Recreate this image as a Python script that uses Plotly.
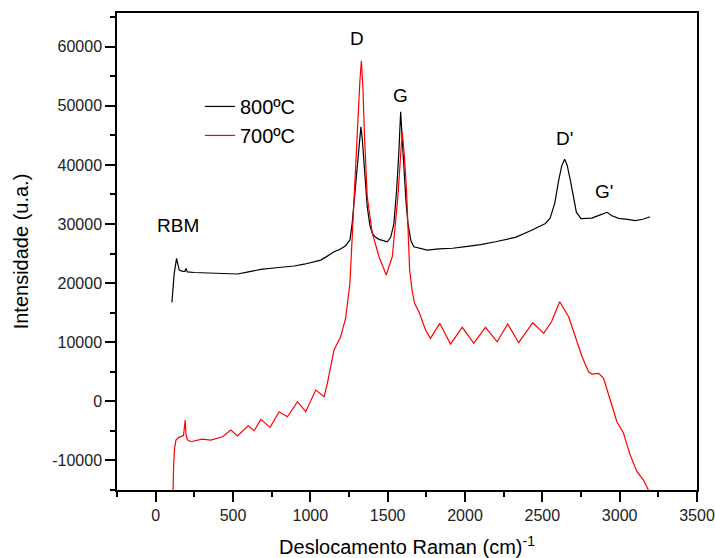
import plotly.graph_objects as go

# ---- data ----
black_x = [105, 120, 135, 145, 152, 175, 190, 196, 205, 249, 330, 420, 529, 600, 680, 780, 895,
           960, 1024, 1067, 1100, 1132, 1153, 1190, 1228, 1256, 1270, 1282, 1304, 1318, 1327,
           1337, 1347, 1358, 1368, 1385, 1401, 1420, 1444, 1498, 1520, 1540, 1558, 1572, 1584,
           1595, 1605, 1618, 1631, 1650, 1669, 1756, 1831, 1920, 2003, 2100, 2197, 2326, 2434,
           2520, 2550, 2580, 2606, 2625, 2644, 2660, 2681, 2700, 2720, 2750, 2778, 2820, 2870,
           2918, 2950, 2993, 3050, 3101, 3150, 3197]
black_y = [16750, 21660, 24200, 22600, 22200, 22000, 22000, 22500, 21900, 21800, 21700, 21600,
           21540, 21900, 22330, 22600, 22900, 23200, 23600, 23900, 24400, 25000, 25300, 25700,
           26300, 27300, 30000, 33500, 40270, 44500, 46460, 44000, 40270, 36000, 32900, 29800,
           28400, 27800, 27400, 27000, 27800, 30000, 35750, 42000, 49000, 44000, 39140, 34000,
           30100, 27200, 26160, 25600, 25800, 25900, 26160, 26500, 27000, 27750, 28980, 30100,
           31000, 33500, 37440, 39800, 40950, 40000, 37440, 34500, 32000, 30900, 30960, 31000,
           31500, 31980, 31400, 30960, 30800, 30560, 30800, 31240]

red_x = [110, 112, 116, 122, 131, 150, 180, 186, 191, 196, 205, 228, 300, 357, 432, 486, 529,
         598, 637, 680, 740, 798, 852, 917, 970, 1035, 1089, 1110, 1153, 1196, 1228, 1256,
         1265, 1300, 1320, 1330, 1340, 1350, 1368, 1401, 1444, 1491, 1530, 1566, 1582, 1594,
         1608, 1622, 1642, 1659, 1674, 1702, 1745, 1777, 1837, 1906, 1982, 2057, 2132, 2208,
         2276, 2347, 2438, 2509, 2560, 2612, 2670, 2713, 2757, 2799, 2821, 2864, 2896, 2939,
         2982, 3025, 3068, 3112, 3154, 3180, 3195]
red_y = [-16500, -15500, -11000, -8000, -6550, -6100, -5800, -4500, -3160, -5600, -6500, -6830,
         -6400, -6550, -6000, -4860, -5870, -4130, -4970, -3050, -4400, -1760, -2600, -60,
         -1760, 1900, 780, 3040, 8680, 10930, 14040, 20000, 25000, 42000, 54000, 57630, 53000,
         45000, 34600, 28400, 24470, 21370, 24470, 34600, 41000, 45600, 41500, 35750, 22220,
         18550, 16580, 15160, 12060, 10660, 13200, 9700, 12520, 9810, 12520, 10080, 13080,
         9920, 13300, 11500, 13500, 16850, 14320, 10930, 7550, 5010, 4620, 4740, 3890, 220,
         -3450, -5410, -9090, -11910, -13320, -14720, -15500]

series_names = ["800ºC", "700ºC"]

x_ticks = [0, 500, 1000, 1500, 2000, 2500, 3000, 3500]
x_ticktext = ["0", "500", "1000", "1500", "2000", "2500", "3000", "3500"]
y_ticks = [-10000, 0, 10000, 20000, 30000, 40000, 50000, 60000]
y_ticktext = ["-10000", "0", "10000", "20000", "30000", "40000", "50000", "60000"]

peak_labels = ["D", "G", "D'", "G'", "RBM"]
peak_x = [1300, 1584, 2642, 2900, 144]
peak_y = [61470, 51660, 44550, 35580, 29830]

FONT = "Arial, Liberation Sans, sans-serif"

fig = go.Figure()
fig.add_trace(go.Scatter(x=black_x, y=black_y, mode="lines", name=series_names[0],
                         line=dict(color="#000000", width=1.2)))
fig.add_trace(go.Scatter(x=red_x, y=red_y, mode="lines", name=series_names[1],
                         line=dict(color="#ff0000", width=1.2)))

for t, px, py in zip(peak_labels, peak_x, peak_y):
    fig.add_annotation(x=px, y=py, text=t, showarrow=False, xanchor="center", yanchor="middle",
                       font=dict(family=FONT, size=19, color="black"))

axis_common = dict(showline=True, linecolor="black", linewidth=1.5, mirror=True,
                   ticks="outside", ticklen=10, tickwidth=1.5, tickcolor="black",
                   showgrid=False, zeroline=False, automargin=False,
                   tickfont=dict(family=FONT, size=16, color="#222222"))

fig.update_layout(
    width=715, height=558,
    margin=dict(l=117, r=18, t=13, b=68),
    plot_bgcolor="white", paper_bgcolor="white",
    font=dict(family=FONT, color="black"),
    xaxis=dict(range=[-250, 3500], tickmode="array", tickvals=x_ticks, ticktext=x_ticktext,
               minor=dict(ticks="outside", ticklen=5, tickwidth=1.5, tickcolor="black",
                          dtick=250, tick0=0, showgrid=False),
               title=dict(text="Deslocamento Raman (cm)<sup>-1</sup>",
                          font=dict(family=FONT, size=20, color="black"), standoff=20),
               **axis_common),
    yaxis=dict(range=[-15000, 65700], tickmode="array", tickvals=y_ticks, ticktext=y_ticktext,
               minor=dict(ticks="outside", ticklen=5, tickwidth=1.5, tickcolor="black",
                          dtick=5000, tick0=0, showgrid=False),
               title=dict(text="Intensidade (u.a.)",
                          font=dict(family=FONT, size=20, color="black"), standoff=18),
               **axis_common),
    legend=dict(x=0.143, y=0.845, xanchor="left", yanchor="top",
                font=dict(family=FONT, size=20, color="black"),
                bgcolor="rgba(0,0,0,0)", borderwidth=0, tracegroupgap=0),
    showlegend=True,
)

fig.write_html("out.html",
               config={"displayModeBar": False},
               post_script="document.body.style.margin='0px';document.body.style.overflow='hidden';")
